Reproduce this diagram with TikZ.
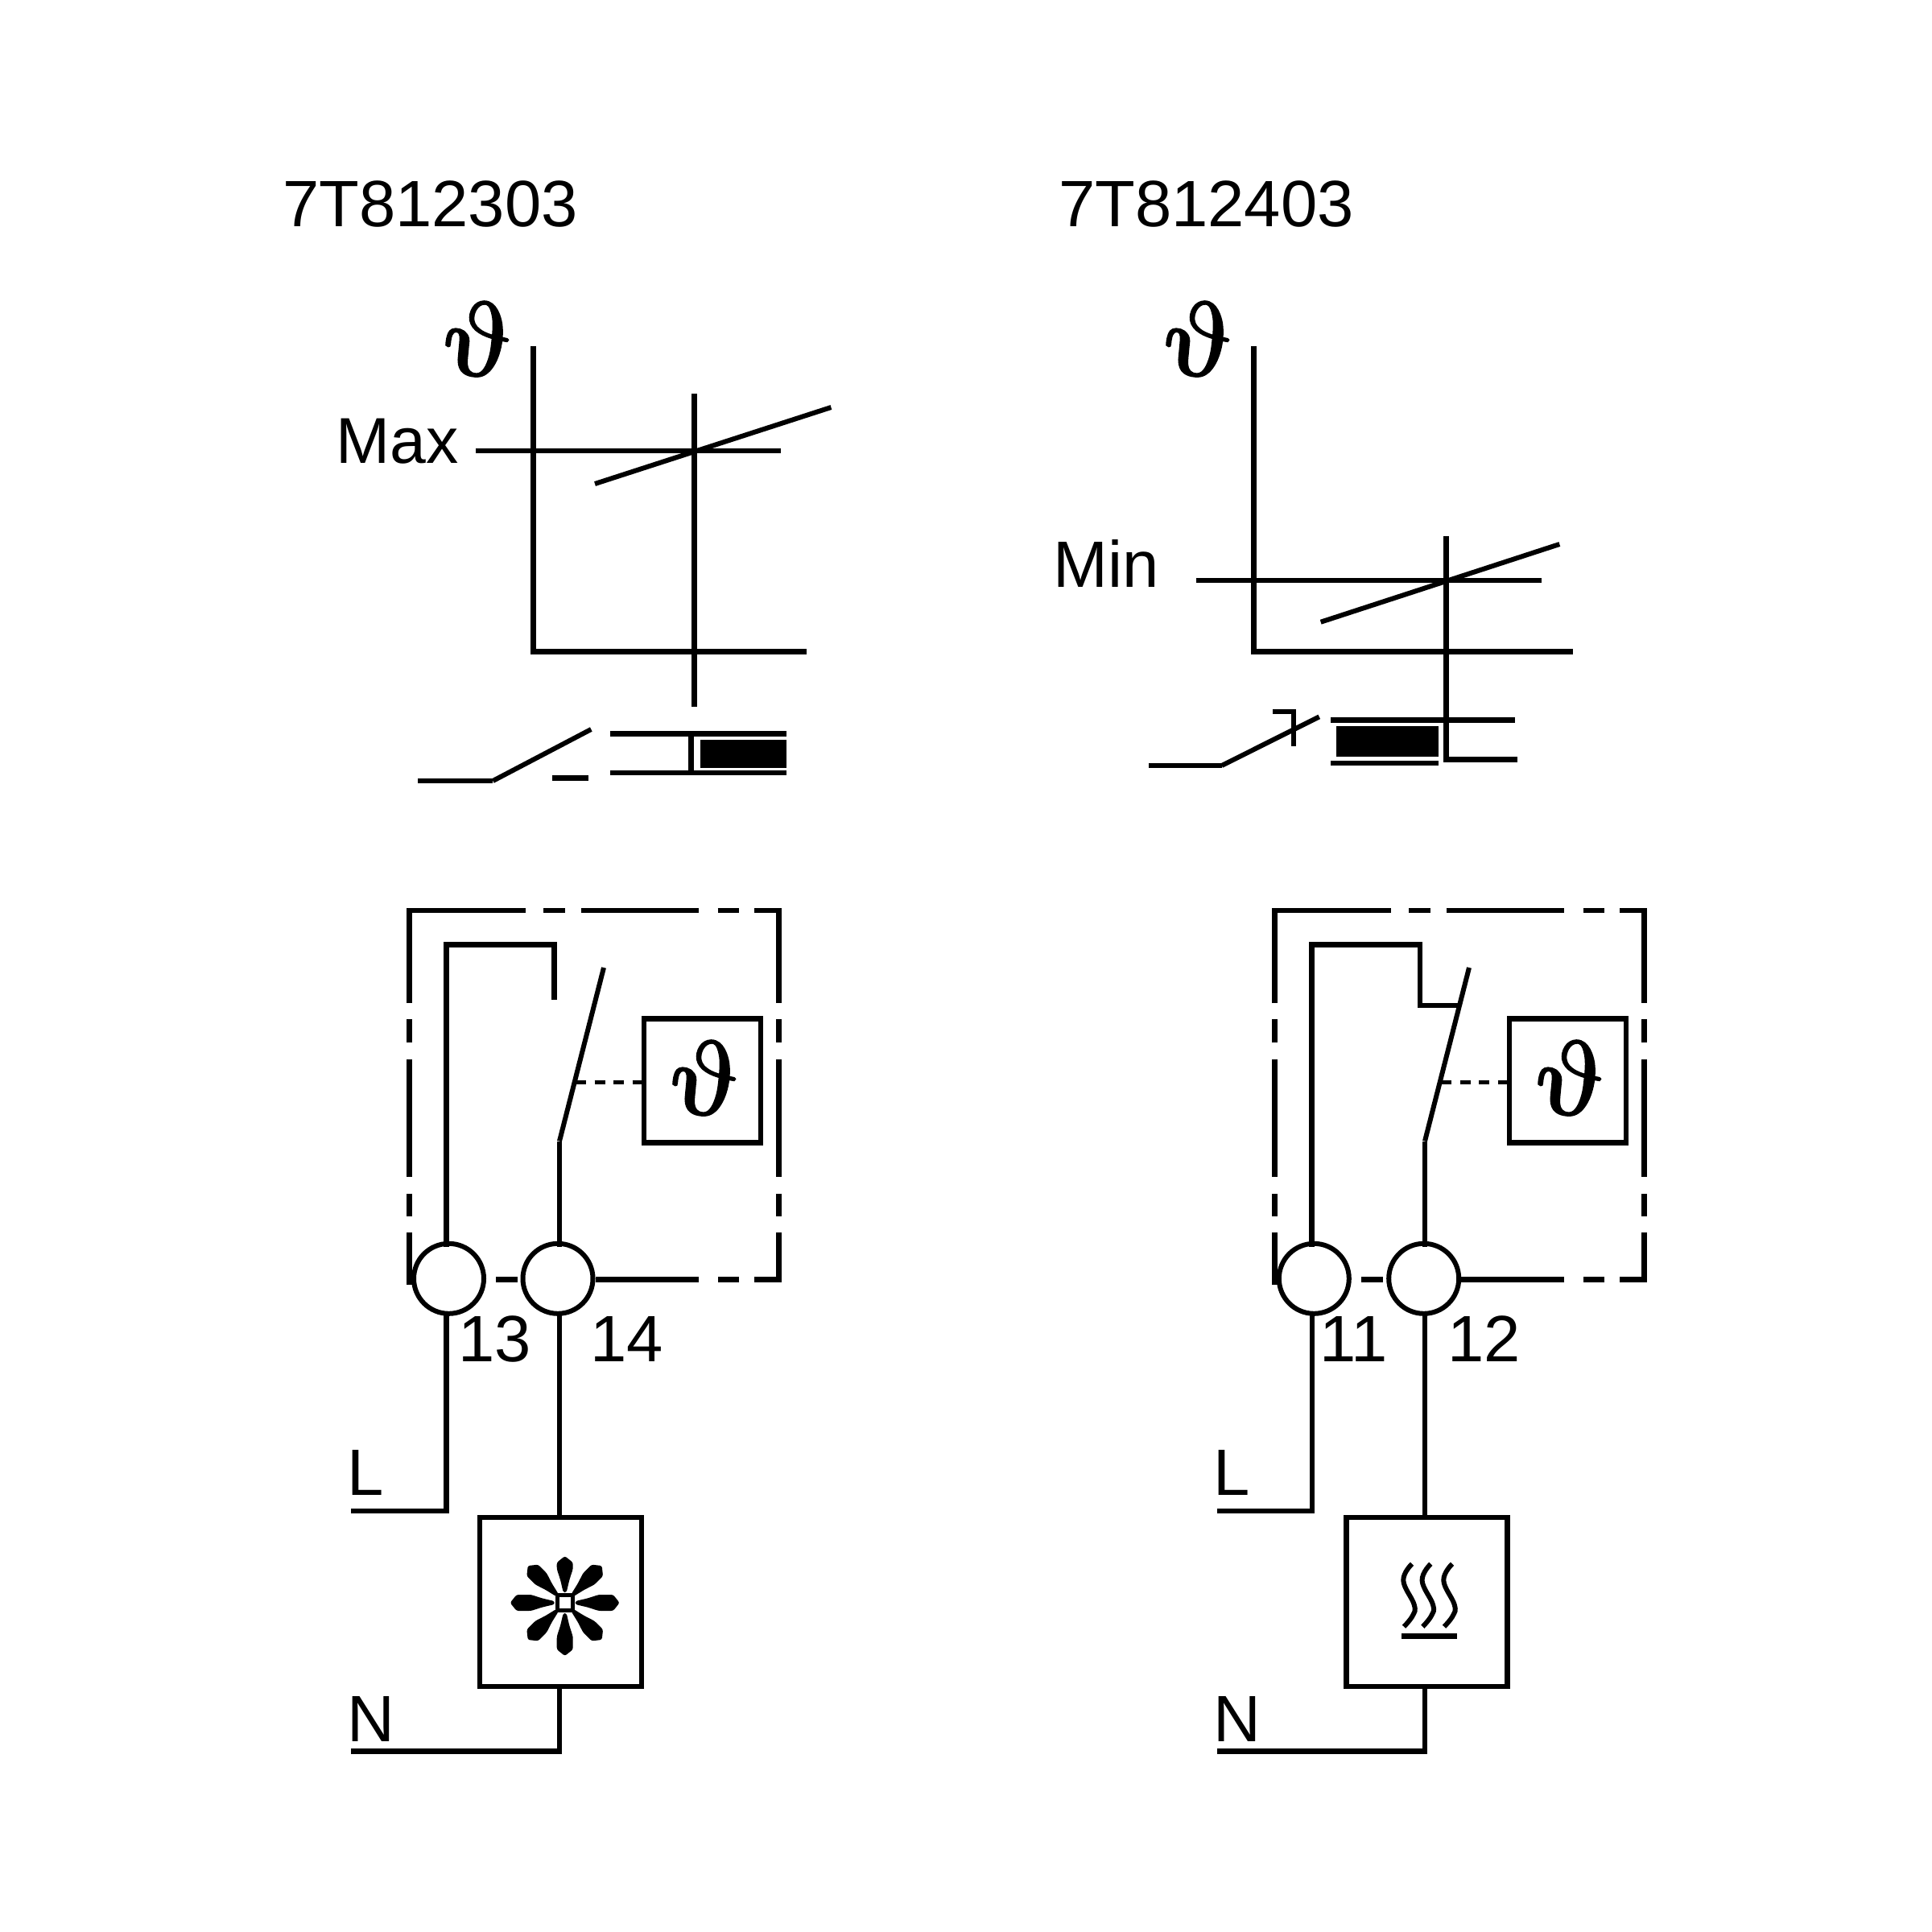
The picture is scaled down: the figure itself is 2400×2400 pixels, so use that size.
\documentclass[tikz,border=0pt]{standalone}
\usepackage{graphicx}
\usepackage{fontspec}
\setmainfont{Liberation Sans}
\newcommand{\thsym}{\scalebox{14.5}[13]{\special{pdf:code q 2 Tr 0.2 w}$\vartheta$\special{pdf:code Q}}}
\newcommand{\dashframe}{%
  \draw[wire] (508.3,1246) -- (508.3,1130.8) -- (652.7,1130.8);
  \draw[wire] (675,1130.8) -- (701.7,1130.8);
  \draw[wire] (721.7,1130.8) -- (868.3,1130.8);
  \draw[wire] (891.7,1130.8) -- (918.3,1130.8);
  \draw[wire] (937.3,1130.8) -- (967.3,1130.8) -- (967.3,1246);
  \draw[wire] (508.3,1266) -- (508.3,1294.5);
  \draw[wire] (508.3,1315.5) -- (508.3,1461.8);
  \draw[wire] (508.3,1482.8) -- (508.3,1511.2);
  \draw[wire] (508.3,1531) -- (508.3,1596);
  \draw[wire] (967.3,1266) -- (967.3,1294.5);
  \draw[wire] (967.3,1315.5) -- (967.3,1461.8);
  \draw[wire] (967.3,1482.8) -- (967.3,1511.2);
  \draw[wire] (967.3,1531) -- (967.3,1589.5) -- (937.3,1589.5);
  \draw[wire] (918.3,1589.5) -- (891.7,1589.5);
  \draw[wire] (868.3,1589.5) -- (740,1589.5);
  \draw[wire] (642.7,1589.5) -- (616,1589.5);
}
\newcommand{\fansym}{%
  \foreach \a/\t in {0/68,45/65,90/58,135/65,180/68,225/65,270/66,315/65}{
    \begin{scope}[shift={(701.7,1991)},rotate=\a]
      \fill[rounded corners=2.5pt] (13,-2) -- (28,-5.5) -- (42,-10) -- ({\t-8},-10) -- (\t,0) -- ({\t-8},10) -- (42,10) -- (28,5.5) -- (13,2) -- cycle;
    \end{scope}
  }
  \draw[line width=5pt] (692.2,1981.5) rectangle (711.2,2000.5);
}
\tikzset{
  wire/.style={line width=6.5pt,line cap=butt,line join=miter},
  thin wire/.style={line width=6pt,line cap=butt},
  label text/.style={font=\fontsize{81.4}{81.4}\selectfont,inner sep=0pt,anchor=base west},
  terminal/.style={circle,draw,fill=white,line width=6pt,minimum size=87pt,inner sep=0pt},
  symbol box/.style={rectangle,draw,line width=6.5pt,inner sep=0pt},
  theta mark/.style={inner sep=0pt,anchor=center,xslant=-0.18},
}
\begin{document}
\begin{tikzpicture}[x=1pt,y=-1pt]
\useasboundingbox (0,0) rectangle (2400,2400);
\fill[white] (0,0) rectangle (2400,2400);

% ---------- titles
\node[label text] (titleA) at (351,281) {7T812303};
\node[label text] (titleB) at (1315,281) {7T812403};

% ---------- upper left characteristic
\node[theta mark] (thA) at (592,421) {\thsym};
\node[label text,font=\fontsize{80.5}{80.5}\selectfont] (maxL) at (417,575.5) {Max};
\draw[wire] (662.5,430) -- (662.5,809.3) -- (1002,809.3);
\draw[wire] (862.5,489) -- (862.5,878);
\draw[wire] (590.8,560) -- (970,560);
\draw[thin wire] (739,601) -- (1032.4,506);
\draw[thin wire] (612.3,970) -- (734.3,906);
\draw[wire] (519,970) -- (612.3,970);
\draw[wire] (685.5,966.7) -- (731,966.7);
\draw[wire] (758,911.3) -- (977,911.3);
\draw[wire] (758,960) -- (977,960);
\draw[wire] (858.7,911.3) -- (858.7,960);
\fill (869.7,919) rectangle (977,954);

% ---------- upper right characteristic
\node[theta mark] (thB) at (1487,421) {\thsym};
\node[label text] (minL) at (1308,729.8) {Min};
\draw[wire] (1557.4,430) -- (1557.4,809.3) -- (1954,809.3);
\draw[wire] (1796.7,665.5) -- (1796.7,943.7) -- (1884.7,943.7);
\draw[wire] (1653,894.6) -- (1882,894.6);
\draw[wire] (1485.6,721) -- (1914.8,721);
\draw[thin wire] (1640.7,772.7) -- (1937.3,676);
\draw[wire] (1426.8,951) -- (1517.7,951);
\draw[thin wire] (1517.7,951) -- (1638.8,890.4);
\draw[wire] (1580.9,884) -- (1607,884) -- (1607,927);
\fill (1659.8,901.9) rectangle (1786.6,940);
\draw[wire] (1653,948) -- (1786.6,948);

% ---------- lower left circuit
\dashframe
\node[terminal] (t13) at (557.5,1588.3) {};
\node[terminal] (t14) at (693,1588.3) {};
\node[symbol box,minimum width=145pt,minimum height=154.2pt] (sensA) at (872.5,1342.4) {};
\node[theta mark] (thC) at (874,1339) {\thsym};
\node[symbol box,minimum width=201pt,minimum height=210pt] (fan) at (696.3,1990) {};
\node[label text] (n13) at (569,1691) {13};
\node[label text] (n14) at (733.5,1691) {14};
\node[label text] (lA) at (431,1857) {L};
\node[label text] (nA) at (431,2163) {N};
\coordinate (sA1) at (695,1417.5);
\coordinate (sA2) at (750,1202);
\coordinate (sA3) at (715,1344.4);
\coordinate (lEndA) at (436,1877);
\coordinate (nEndA) at (436,2175.6);
\draw[wire] (554.7,1549) -- (554.7,1173.5) -- (688.3,1173.5) -- (688.3,1241.6);
\draw[wire] (695,1549) -- (sA1);
\draw[thin wire] (sA1) -- (sA2);
\draw[line width=5pt,dash pattern=on 13pt off 10.5pt] (sA3) -- (sensA.west |- sA3);
\draw[wire] (554.7,1632) -- (554.7,1877) -- (lEndA);
\draw[wire] (695,1632) -- (695,1885);
\draw[wire] (695,2095) -- (695,2175.6) -- (nEndA);
\fansym

% ---------- lower right circuit
\begin{scope}[xshift=1075pt]
\dashframe
\end{scope}
\node[terminal] (t11) at (1632.3,1588.3) {};
\node[terminal] (t12) at (1768.7,1588.3) {};
\node[symbol box,minimum width=145pt,minimum height=154.2pt] (sensB) at (1947.5,1342.4) {};
\node[theta mark] (thD) at (1949,1339) {\thsym};
\node[symbol box,minimum width=200pt,minimum height=210pt] (heat) at (1772.3,1990) {};
\node[label text] (n11) at (1639,1691) {11};
\node[label text] (n12) at (1798.5,1691) {12};
\node[label text] (lB) at (1507,1857) {L};
\node[label text] (nB) at (1507,2163) {N};
\coordinate (sB1) at (1770,1417.5);
\coordinate (sB2) at (1825,1202);
\coordinate (sB3) at (1790,1344.4);
\coordinate (lEndB) at (1512,1877);
\coordinate (nEndB) at (1512,2175.6);
\draw[wire] (1629.3,1549) -- (1629.3,1173.5) -- (1764,1173.5) -- (1764,1249) -- (1815,1249);
\draw[wire] (1770,1549) -- (sB1);
\draw[thin wire] (sB1) -- (sB2);
\draw[line width=5pt,dash pattern=on 13pt off 10.5pt] (sB3) -- (sensB.west |- sB3);
\draw[wire] (1629.8,1632) -- (1629.8,1877) -- (lEndB);
\draw[wire] (1770,1632) -- (1770,1885);
\draw[wire] (1770,2095) -- (1770,2175.6) -- (nEndB);
\foreach \dx in {0,23.3,50}{
  \draw[line width=6pt,xshift=\dx pt] plot[smooth,tension=0.7] coordinates {(1754,1942.7) (1743.3,1963.3) (1756.7,1993.3) (1755,2006.7) (1744,2020.7)};
}
\draw[wire] (1741,2032.3) -- (1810,2032.3);
\end{tikzpicture}
\end{document}
